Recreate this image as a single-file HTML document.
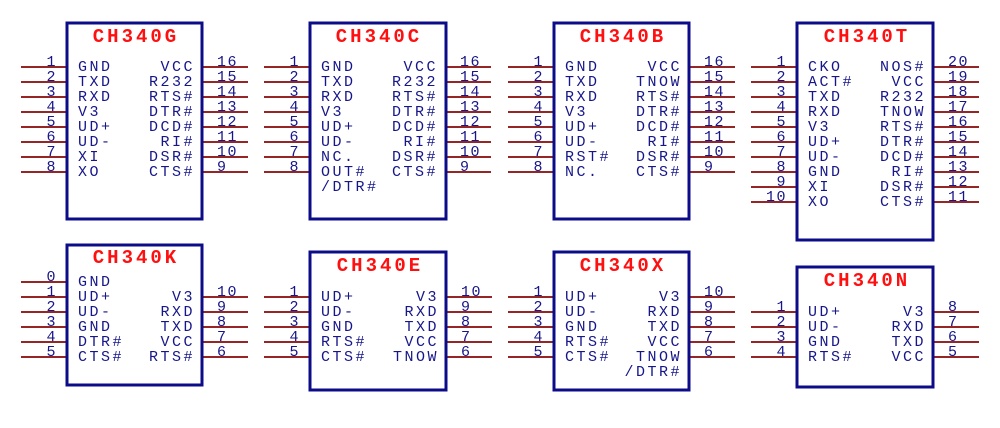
<!DOCTYPE html>
<html><head><meta charset="utf-8"><style>
html,body{margin:0;padding:0;background:#fff;}
svg{display:block}
.b{fill:#fff;stroke:#0c0c88;stroke-width:3}
.p{stroke:#962626;stroke-width:2}
text{font-family:"Liberation Mono",monospace;}
.t{fill:#ff1010;font-size:19px;font-weight:bold;letter-spacing:3px;text-anchor:middle}
.l{fill:#16168a;font-size:15px;letter-spacing:2.5px}
.r{fill:#16168a;font-size:15px;letter-spacing:2.5px;text-anchor:end}
.nl{fill:#16168a;font-size:15px;letter-spacing:1.5px;text-anchor:end}
.nr{fill:#16168a;font-size:15px;letter-spacing:1.5px}
</style></head><body>
<svg width="1000" height="428" viewBox="0 0 1000 428" xmlns="http://www.w3.org/2000/svg">

<!-- CH340G -->
<g transform="translate(67,23)">
<g class="p"><line x1="-46" y1="44" x2="0" y2="44"/><line x1="-46" y1="59" x2="0" y2="59"/><line x1="-46" y1="74" x2="0" y2="74"/><line x1="-46" y1="89" x2="0" y2="89"/><line x1="-46" y1="104" x2="0" y2="104"/><line x1="-46" y1="119" x2="0" y2="119"/><line x1="-46" y1="134" x2="0" y2="134"/><line x1="-46" y1="149" x2="0" y2="149"/>
<line x1="135" y1="44" x2="181" y2="44"/><line x1="135" y1="59" x2="181" y2="59"/><line x1="135" y1="74" x2="181" y2="74"/><line x1="135" y1="89" x2="181" y2="89"/><line x1="135" y1="104" x2="181" y2="104"/><line x1="135" y1="119" x2="181" y2="119"/><line x1="135" y1="134" x2="181" y2="134"/><line x1="135" y1="149" x2="181" y2="149"/></g>
<rect class="b" x="0" y="0" width="135" height="196"/>
<text class="t" x="69" y="19">CH340G</text>
<text class="l" x="11" y="48">GND</text><text class="l" x="11" y="63">TXD</text><text class="l" x="11" y="78">RXD</text><text class="l" x="11" y="93">V3</text><text class="l" x="11" y="108">UD+</text><text class="l" x="11" y="123">UD-</text><text class="l" x="11" y="138">XI</text><text class="l" x="11" y="153">XO</text>
<text class="r" x="128" y="48">VCC</text><text class="r" x="128" y="63">R232</text><text class="r" x="128" y="78">RTS#</text><text class="r" x="128" y="93">DTR#</text><text class="r" x="128" y="108">DCD#</text><text class="r" x="128" y="123">RI#</text><text class="r" x="128" y="138">DSR#</text><text class="r" x="128" y="153">CTS#</text>
<text class="nl" x="-10" y="43">1</text><text class="nl" x="-10" y="58">2</text><text class="nl" x="-10" y="73">3</text><text class="nl" x="-10" y="88">4</text><text class="nl" x="-10" y="103">5</text><text class="nl" x="-10" y="118">6</text><text class="nl" x="-10" y="133">7</text><text class="nl" x="-10" y="148">8</text>
<text class="nr" x="150" y="43">16</text><text class="nr" x="150" y="58">15</text><text class="nr" x="150" y="73">14</text><text class="nr" x="150" y="88">13</text><text class="nr" x="150" y="103">12</text><text class="nr" x="150" y="118">11</text><text class="nr" x="150" y="133">10</text><text class="nr" x="150" y="148">9</text>
</g>

<!-- CH340C -->
<g transform="translate(310,23)">
<g class="p"><line x1="-46" y1="44" x2="0" y2="44"/><line x1="-46" y1="59" x2="0" y2="59"/><line x1="-46" y1="74" x2="0" y2="74"/><line x1="-46" y1="89" x2="0" y2="89"/><line x1="-46" y1="104" x2="0" y2="104"/><line x1="-46" y1="119" x2="0" y2="119"/><line x1="-46" y1="134" x2="0" y2="134"/><line x1="-46" y1="149" x2="0" y2="149"/>
<line x1="135" y1="44" x2="181" y2="44"/><line x1="135" y1="59" x2="181" y2="59"/><line x1="135" y1="74" x2="181" y2="74"/><line x1="135" y1="89" x2="181" y2="89"/><line x1="135" y1="104" x2="181" y2="104"/><line x1="135" y1="119" x2="181" y2="119"/><line x1="135" y1="134" x2="181" y2="134"/><line x1="135" y1="149" x2="181" y2="149"/></g>
<rect class="b" x="0" y="0" width="136" height="196"/>
<text class="t" x="69" y="19">CH340C</text>
<text class="l" x="11" y="48">GND</text><text class="l" x="11" y="63">TXD</text><text class="l" x="11" y="78">RXD</text><text class="l" x="11" y="93">V3</text><text class="l" x="11" y="108">UD+</text><text class="l" x="11" y="123">UD-</text><text class="l" x="11" y="138">NC.</text><text class="l" x="11" y="153">OUT#</text><text class="l" x="11" y="168">/DTR#</text>
<text class="r" x="128" y="48">VCC</text><text class="r" x="128" y="63">R232</text><text class="r" x="128" y="78">RTS#</text><text class="r" x="128" y="93">DTR#</text><text class="r" x="128" y="108">DCD#</text><text class="r" x="128" y="123">RI#</text><text class="r" x="128" y="138">DSR#</text><text class="r" x="128" y="153">CTS#</text>
<text class="nl" x="-10" y="43">1</text><text class="nl" x="-10" y="58">2</text><text class="nl" x="-10" y="73">3</text><text class="nl" x="-10" y="88">4</text><text class="nl" x="-10" y="103">5</text><text class="nl" x="-10" y="118">6</text><text class="nl" x="-10" y="133">7</text><text class="nl" x="-10" y="148">8</text>
<text class="nr" x="150" y="43">16</text><text class="nr" x="150" y="58">15</text><text class="nr" x="150" y="73">14</text><text class="nr" x="150" y="88">13</text><text class="nr" x="150" y="103">12</text><text class="nr" x="150" y="118">11</text><text class="nr" x="150" y="133">10</text><text class="nr" x="150" y="148">9</text>
</g>

<!-- CH340B -->
<g transform="translate(554,23)">
<g class="p"><line x1="-46" y1="44" x2="0" y2="44"/><line x1="-46" y1="59" x2="0" y2="59"/><line x1="-46" y1="74" x2="0" y2="74"/><line x1="-46" y1="89" x2="0" y2="89"/><line x1="-46" y1="104" x2="0" y2="104"/><line x1="-46" y1="119" x2="0" y2="119"/><line x1="-46" y1="134" x2="0" y2="134"/><line x1="-46" y1="149" x2="0" y2="149"/>
<line x1="135" y1="44" x2="181" y2="44"/><line x1="135" y1="59" x2="181" y2="59"/><line x1="135" y1="74" x2="181" y2="74"/><line x1="135" y1="89" x2="181" y2="89"/><line x1="135" y1="104" x2="181" y2="104"/><line x1="135" y1="119" x2="181" y2="119"/><line x1="135" y1="134" x2="181" y2="134"/><line x1="135" y1="149" x2="181" y2="149"/></g>
<rect class="b" x="0" y="0" width="135" height="196"/>
<text class="t" x="69" y="19">CH340B</text>
<text class="l" x="11" y="48">GND</text><text class="l" x="11" y="63">TXD</text><text class="l" x="11" y="78">RXD</text><text class="l" x="11" y="93">V3</text><text class="l" x="11" y="108">UD+</text><text class="l" x="11" y="123">UD-</text><text class="l" x="11" y="138">RST#</text><text class="l" x="11" y="153">NC.</text>
<text class="r" x="128" y="48">VCC</text><text class="r" x="128" y="63">TNOW</text><text class="r" x="128" y="78">RTS#</text><text class="r" x="128" y="93">DTR#</text><text class="r" x="128" y="108">DCD#</text><text class="r" x="128" y="123">RI#</text><text class="r" x="128" y="138">DSR#</text><text class="r" x="128" y="153">CTS#</text>
<text class="nl" x="-10" y="43">1</text><text class="nl" x="-10" y="58">2</text><text class="nl" x="-10" y="73">3</text><text class="nl" x="-10" y="88">4</text><text class="nl" x="-10" y="103">5</text><text class="nl" x="-10" y="118">6</text><text class="nl" x="-10" y="133">7</text><text class="nl" x="-10" y="148">8</text>
<text class="nr" x="150" y="43">16</text><text class="nr" x="150" y="58">15</text><text class="nr" x="150" y="73">14</text><text class="nr" x="150" y="88">13</text><text class="nr" x="150" y="103">12</text><text class="nr" x="150" y="118">11</text><text class="nr" x="150" y="133">10</text><text class="nr" x="150" y="148">9</text>
</g>

<!-- CH340T -->
<g transform="translate(797,23)">
<g class="p"><line x1="-46" y1="44" x2="0" y2="44"/><line x1="-46" y1="59" x2="0" y2="59"/><line x1="-46" y1="74" x2="0" y2="74"/><line x1="-46" y1="89" x2="0" y2="89"/><line x1="-46" y1="104" x2="0" y2="104"/><line x1="-46" y1="119" x2="0" y2="119"/><line x1="-46" y1="134" x2="0" y2="134"/><line x1="-46" y1="149" x2="0" y2="149"/><line x1="-46" y1="164" x2="0" y2="164"/><line x1="-46" y1="179" x2="0" y2="179"/>
<line x1="136" y1="44" x2="182" y2="44"/><line x1="136" y1="59" x2="182" y2="59"/><line x1="136" y1="74" x2="182" y2="74"/><line x1="136" y1="89" x2="182" y2="89"/><line x1="136" y1="104" x2="182" y2="104"/><line x1="136" y1="119" x2="182" y2="119"/><line x1="136" y1="134" x2="182" y2="134"/><line x1="136" y1="149" x2="182" y2="149"/><line x1="136" y1="164" x2="182" y2="164"/><line x1="136" y1="179" x2="182" y2="179"/></g>
<rect class="b" x="0" y="0" width="136" height="217"/>
<text class="t" x="70" y="19">CH340T</text>
<text class="l" x="11" y="48">CKO</text><text class="l" x="11" y="63">ACT#</text><text class="l" x="11" y="78">TXD</text><text class="l" x="11" y="93">RXD</text><text class="l" x="11" y="108">V3</text><text class="l" x="11" y="123">UD+</text><text class="l" x="11" y="138">UD-</text><text class="l" x="11" y="153">GND</text><text class="l" x="11" y="168">XI</text><text class="l" x="11" y="183">XO</text>
<text class="r" x="129" y="48">NOS#</text><text class="r" x="129" y="63">VCC</text><text class="r" x="129" y="78">R232</text><text class="r" x="129" y="93">TNOW</text><text class="r" x="129" y="108">RTS#</text><text class="r" x="129" y="123">DTR#</text><text class="r" x="129" y="138">DCD#</text><text class="r" x="129" y="153">RI#</text><text class="r" x="129" y="168">DSR#</text><text class="r" x="129" y="183">CTS#</text>
<text class="nl" x="-10" y="43">1</text><text class="nl" x="-10" y="58">2</text><text class="nl" x="-10" y="73">3</text><text class="nl" x="-10" y="88">4</text><text class="nl" x="-10" y="103">5</text><text class="nl" x="-10" y="118">6</text><text class="nl" x="-10" y="133">7</text><text class="nl" x="-10" y="148">8</text><text class="nl" x="-10" y="163">9</text><text class="nl" x="-10" y="178">10</text>
<text class="nr" x="151" y="43">20</text><text class="nr" x="151" y="58">19</text><text class="nr" x="151" y="73">18</text><text class="nr" x="151" y="88">17</text><text class="nr" x="151" y="103">16</text><text class="nr" x="151" y="118">15</text><text class="nr" x="151" y="133">14</text><text class="nr" x="151" y="148">13</text><text class="nr" x="151" y="163">12</text><text class="nr" x="151" y="178">11</text>
</g>

<!-- CH340K -->
<g transform="translate(67,245)">
<g class="p"><line x1="-46" y1="37" x2="0" y2="37"/><line x1="-46" y1="52" x2="0" y2="52"/><line x1="-46" y1="67" x2="0" y2="67"/><line x1="-46" y1="82" x2="0" y2="82"/><line x1="-46" y1="97" x2="0" y2="97"/><line x1="-46" y1="112" x2="0" y2="112"/>
<line x1="135" y1="52" x2="181" y2="52"/><line x1="135" y1="67" x2="181" y2="67"/><line x1="135" y1="82" x2="181" y2="82"/><line x1="135" y1="97" x2="181" y2="97"/><line x1="135" y1="112" x2="181" y2="112"/></g>
<rect class="b" x="0" y="0" width="135" height="140"/>
<text class="t" x="69" y="18">CH340K</text>
<text class="l" x="11" y="41">GND</text><text class="l" x="11" y="56">UD+</text><text class="l" x="11" y="71">UD-</text><text class="l" x="11" y="86">GND</text><text class="l" x="11" y="101">DTR#</text><text class="l" x="11" y="116">CTS#</text>
<text class="r" x="128" y="56">V3</text><text class="r" x="128" y="71">RXD</text><text class="r" x="128" y="86">TXD</text><text class="r" x="128" y="101">VCC</text><text class="r" x="128" y="116">RTS#</text>
<text class="nl" x="-10" y="36">0</text><text class="nl" x="-10" y="51">1</text><text class="nl" x="-10" y="66">2</text><text class="nl" x="-10" y="81">3</text><text class="nl" x="-10" y="96">4</text><text class="nl" x="-10" y="111">5</text>
<text class="nr" x="150" y="51">10</text><text class="nr" x="150" y="66">9</text><text class="nr" x="150" y="81">8</text><text class="nr" x="150" y="96">7</text><text class="nr" x="150" y="111">6</text>
</g>

<!-- CH340E -->
<g transform="translate(310,252)">
<g class="p"><line x1="-46" y1="45" x2="0" y2="45"/><line x1="-46" y1="60" x2="0" y2="60"/><line x1="-46" y1="75" x2="0" y2="75"/><line x1="-46" y1="90" x2="0" y2="90"/><line x1="-46" y1="105" x2="0" y2="105"/>
<line x1="136" y1="45" x2="182" y2="45"/><line x1="136" y1="60" x2="182" y2="60"/><line x1="136" y1="75" x2="182" y2="75"/><line x1="136" y1="90" x2="182" y2="90"/><line x1="136" y1="105" x2="182" y2="105"/></g>
<rect class="b" x="0" y="0" width="136" height="138"/>
<text class="t" x="70" y="19">CH340E</text>
<text class="l" x="11" y="49">UD+</text><text class="l" x="11" y="64">UD-</text><text class="l" x="11" y="79">GND</text><text class="l" x="11" y="94">RTS#</text><text class="l" x="11" y="109">CTS#</text>
<text class="r" x="129" y="49">V3</text><text class="r" x="129" y="64">RXD</text><text class="r" x="129" y="79">TXD</text><text class="r" x="129" y="94">VCC</text><text class="r" x="129" y="109">TNOW</text>
<text class="nl" x="-10" y="44">1</text><text class="nl" x="-10" y="59">2</text><text class="nl" x="-10" y="74">3</text><text class="nl" x="-10" y="89">4</text><text class="nl" x="-10" y="104">5</text>
<text class="nr" x="151" y="44">10</text><text class="nr" x="151" y="59">9</text><text class="nr" x="151" y="74">8</text><text class="nr" x="151" y="89">7</text><text class="nr" x="151" y="104">6</text>
</g>

<!-- CH340X -->
<g transform="translate(554,252)">
<g class="p"><line x1="-46" y1="45" x2="0" y2="45"/><line x1="-46" y1="60" x2="0" y2="60"/><line x1="-46" y1="75" x2="0" y2="75"/><line x1="-46" y1="90" x2="0" y2="90"/><line x1="-46" y1="105" x2="0" y2="105"/>
<line x1="135" y1="45" x2="181" y2="45"/><line x1="135" y1="60" x2="181" y2="60"/><line x1="135" y1="75" x2="181" y2="75"/><line x1="135" y1="90" x2="181" y2="90"/><line x1="135" y1="105" x2="181" y2="105"/></g>
<rect class="b" x="0" y="0" width="135" height="138"/>
<text class="t" x="69" y="19">CH340X</text>
<text class="l" x="11" y="49">UD+</text><text class="l" x="11" y="64">UD-</text><text class="l" x="11" y="79">GND</text><text class="l" x="11" y="94">RTS#</text><text class="l" x="11" y="109">CTS#</text>
<text class="r" x="128" y="49">V3</text><text class="r" x="128" y="64">RXD</text><text class="r" x="128" y="79">TXD</text><text class="r" x="128" y="94">VCC</text><text class="r" x="128" y="109">TNOW</text><text class="r" x="128" y="124">/DTR#</text>
<text class="nl" x="-10" y="44">1</text><text class="nl" x="-10" y="59">2</text><text class="nl" x="-10" y="74">3</text><text class="nl" x="-10" y="89">4</text><text class="nl" x="-10" y="104">5</text>
<text class="nr" x="150" y="44">10</text><text class="nr" x="150" y="59">9</text><text class="nr" x="150" y="74">8</text><text class="nr" x="150" y="89">7</text><text class="nr" x="150" y="104">6</text>
</g>

<!-- CH340N -->
<g transform="translate(797,267)">
<g class="p"><line x1="-46" y1="45" x2="0" y2="45"/><line x1="-46" y1="60" x2="0" y2="60"/><line x1="-46" y1="75" x2="0" y2="75"/><line x1="-46" y1="90" x2="0" y2="90"/>
<line x1="136" y1="45" x2="182" y2="45"/><line x1="136" y1="60" x2="182" y2="60"/><line x1="136" y1="75" x2="182" y2="75"/><line x1="136" y1="90" x2="182" y2="90"/></g>
<rect class="b" x="0" y="0" width="136" height="120"/>
<text class="t" x="70" y="19">CH340N</text>
<text class="l" x="11" y="49">UD+</text><text class="l" x="11" y="64">UD-</text><text class="l" x="11" y="79">GND</text><text class="l" x="11" y="94">RTS#</text>
<text class="r" x="129" y="49">V3</text><text class="r" x="129" y="64">RXD</text><text class="r" x="129" y="79">TXD</text><text class="r" x="129" y="94">VCC</text>
<text class="nl" x="-10" y="44">1</text><text class="nl" x="-10" y="59">2</text><text class="nl" x="-10" y="74">3</text><text class="nl" x="-10" y="89">4</text>
<text class="nr" x="151" y="44">8</text><text class="nr" x="151" y="59">7</text><text class="nr" x="151" y="74">6</text><text class="nr" x="151" y="89">5</text>
</g>
</svg>
</body></html>
